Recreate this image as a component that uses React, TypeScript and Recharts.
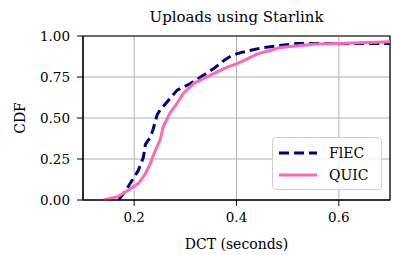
import { CartesianGrid, Line, LineChart, ReferenceArea, XAxis, YAxis } from "recharts";

const flecX = [0.17, 0.19, 0.208, 0.218, 0.222, 0.231, 0.237, 0.245, 0.251, 0.265, 0.284, 0.31, 0.33, 0.355, 0.375, 0.39, 0.41, 0.453, 0.52, 0.6, 0.7];
const flecY = [0, 0.09, 0.18, 0.26, 0.34, 0.38, 0.43, 0.52, 0.55, 0.6, 0.67, 0.71, 0.75, 0.8, 0.85, 0.88, 0.9, 0.93, 0.955, 0.955, 0.955];

const quicX = [0.14, 0.168, 0.188, 0.208, 0.222, 0.231, 0.241, 0.251, 0.257, 0.27, 0.284, 0.296, 0.316, 0.335, 0.355, 0.382, 0.4, 0.414, 0.44, 0.486, 0.55, 0.7];
const quicY = [0, 0.02, 0.06, 0.1, 0.16, 0.22, 0.3, 0.37, 0.45, 0.53, 0.59, 0.65, 0.71, 0.74, 0.77, 0.81, 0.83, 0.85, 0.89, 0.93, 0.95, 0.965];

const xTicks = [0.2, 0.4, 0.6];
const yTicks = [0, 0.25, 0.5, 0.75, 1];

const flec = flecX.map((x, i) => ({ x, y: flecY[i] }));
const quic = quicX.map((x, i) => ({ x, y: quicY[i] }));

const font = "'DejaVu Serif', serif";
const tickStyle = { fill: "#000", fontSize: 13.5, fontFamily: font };

function LegendBox() {
  const items = [
    { name: "FlEC", color: "#000080", dash: "10 5" },
    { name: "QUIC", color: "#ff69b4", dash: undefined },
  ];
  return (
    <div
      style={{
        position: "absolute",
        left: 272,
        top: 137,
        width: 110,
        height: 53,
        boxSizing: "border-box",
        border: "1px solid #d0d0d0",
        borderRadius: 4,
        background: "rgba(255,255,255,0.85)",
        padding: "4px 0 0 6px",
        fontFamily: font,
        fontSize: 14,
      }}
    >
      {items.map((it) => (
        <div key={it.name} style={{ display: "flex", alignItems: "center", height: 22 }}>
          <svg width={40} height={10}>
            <line x1={0} y1={5} x2={38} y2={5} stroke={it.color} strokeWidth={3} strokeDasharray={it.dash} />
          </svg>
          <span style={{ marginLeft: 10 }}>{it.name}</span>
        </div>
      ))}
    </div>
  );
}

export default function App() {
  return (
    <div style={{ position: "absolute", left: 0, top: 0, width: 394, height: 255, background: "#fff" }}>
      <div
        style={{
          position: "absolute",
          left: 83,
          width: 307,
          top: 8,
          textAlign: "center",
          fontFamily: font,
          fontSize: 15,
          lineHeight: "18px",
        }}
      >
        Uploads using Starlink
      </div>
      <LineChart width={394} height={255} margin={{ top: 36, right: 4, bottom: 0, left: 0 }}>
        <CartesianGrid stroke="#b0b0b0" strokeWidth={1} />
        <XAxis
          dataKey="x"
          type="number"
          domain={[0.1, 0.7]}
          ticks={xTicks}
          allowDataOverflow
          tickFormatter={(v: number) => v.toFixed(1)}
          tick={tickStyle}
          tickLine={{ stroke: "#000" }}
          axisLine={{ stroke: "#000" }}
          tickSize={6}
          tickMargin={6}
          height={55}
          label={{ value: "DCT (seconds)", position: "insideBottom", offset: 6, style: { fill: "#000", fontSize: 14, fontFamily: font } }}
        />
        <YAxis
          type="number"
          domain={[0, 1]}
          ticks={yTicks}
          tickFormatter={(v: number) => v.toFixed(2)}
          tick={tickStyle}
          tickLine={{ stroke: "#000" }}
          axisLine={{ stroke: "#000" }}
          tickSize={6}
          tickMargin={7}
          width={83}
          label={{ value: "CDF", angle: -90, position: "insideLeft", offset: 20, style: { fill: "#000", fontSize: 14, fontFamily: font, textAnchor: "middle" } }}
        />
        <ReferenceArea x1={0.1} x2={0.7} y1={0} y2={1} fill="none" stroke="#000" strokeWidth={1.2} ifOverflow="visible" />
        <Line data={flec} dataKey="y" type="linear" stroke="#000080" strokeWidth={3} strokeDasharray="10 5" dot={false} isAnimationActive={false} />
        <Line data={quic} dataKey="y" type="linear" stroke="#ff69b4" strokeWidth={3} dot={false} isAnimationActive={false} />
      </LineChart>
      <LegendBox />
    </div>
  );
}
